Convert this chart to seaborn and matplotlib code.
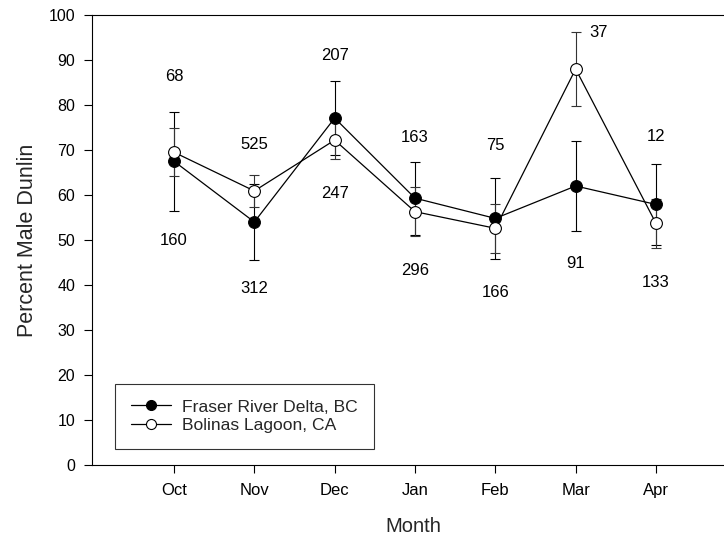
import matplotlib
matplotlib.use("Agg")
import matplotlib.pyplot as plt
import seaborn as sns
import numpy as np
import pandas as pd

months = ["Oct", "Nov", "Dec", "Jan", "Feb", "Mar", "Apr"]
fraser_pct = [67.5, 54.0, 77.1, 59.3, 54.8, 62.0, 57.9]
fraser_err = [11.0, 8.4, 8.3, 8.1, 9.0, 9.9, 9.1]
bolinas_pct = [69.5, 60.9, 72.2, 56.3, 52.6, 88.0, 53.7]
bolinas_err = [5.3, 3.6, 4.2, 5.4, 5.5, 8.3, 5.5]
n_upper = ["68", "525", "207", "163", "75", "37", "12"]
n_upper_y = [86.4, 71.3, 91.0, 72.8, 70.9, 96.2, 73.0]
n_lower = ["160", "312", "247", "296", "166", "91", "133"]
n_lower_y = [49.9, 39.2, 60.4, 43.2, 38.3, 44.8, 40.5]

sns.set_theme(style="ticks")
plt.rcParams["font.family"] = ["Liberation Sans", "DejaVu Sans"]

fig = plt.figure(figsize=(7.24, 5.40), dpi=100)
ax = fig.add_axes([92 / 724, 75 / 540, 1 - 92 / 724, 450 / 540])

x = np.arange(len(months))
df = pd.DataFrame({"x": x, "fraser": fraser_pct, "bolinas": bolinas_pct})

ax.errorbar(x, fraser_pct, yerr=fraser_err, fmt="none", ecolor="black",
            elinewidth=0.8, capsize=3.5, capthick=0.8, zorder=2)
ax.errorbar(x, bolinas_pct, yerr=bolinas_err, fmt="none", ecolor="#333333",
            elinewidth=0.8, capsize=3.5, capthick=0.8, zorder=2)

sns.lineplot(data=df, x="x", y="fraser", ax=ax, color="black", linewidth=0.9,
             marker="o", markersize=8.5, markerfacecolor="black",
             markeredgecolor="black", label="Fraser River Delta, BC", zorder=3)
sns.lineplot(data=df, x="x", y="bolinas", ax=ax, color="black", linewidth=0.9,
             marker="o", markersize=8.5, markerfacecolor="white",
             markeredgecolor="black", markeredgewidth=0.8,
             label="Bolinas Lagoon, CA", zorder=4)

for i, (t, yy) in enumerate(zip(n_upper, n_upper_y)):
    dx = 0.29 if months[i] == "Mar" else 0.0
    ax.text(i + dx, yy, t, ha="center", va="center", fontsize=12, color="black")
for i, (t, yy) in enumerate(zip(n_lower, n_lower_y)):
    ax.text(i, yy, t, ha="center", va="center", fontsize=12, color="black")

ax.set_xlim(-82 / 80.33, 550 / 80.33)
ax.set_ylim(0, 100)
ax.set_xticks(x)
ax.set_xticklabels(months)
ax.set_yticks(np.arange(0, 101, 10))
ax.tick_params(axis="both", direction="out", length=6, width=0.8,
               colors="black")
ax.tick_params(axis="x", labelsize=12, pad=7)
ax.tick_params(axis="y", labelsize=11.5, pad=6)
for s in ["left", "bottom", "top"]:
    ax.spines[s].set_color("black")
    ax.spines[s].set_linewidth(0.8)
ax.spines["right"].set_visible(False)

ax.set_xlabel("Month", fontsize=14.5, labelpad=16)
ax.xaxis.set_label_coords(321 / 632, -0.115)
ax.set_ylabel("Percent Male Dunlin", fontsize=15.5, labelpad=8)

leg = ax.legend(loc="lower left", bbox_to_anchor=(23 / 632, 16 / 450),
                frameon=True, fancybox=False, fontsize=12.6, handlelength=2.3,
                borderpad=0.9, labelspacing=0.2, handletextpad=0.65,
                borderaxespad=0.0, markerscale=0.85)
leg.get_frame().set_edgecolor("black")
leg.get_frame().set_linewidth(0.8)

fig.savefig("out.png", dpi=100)
